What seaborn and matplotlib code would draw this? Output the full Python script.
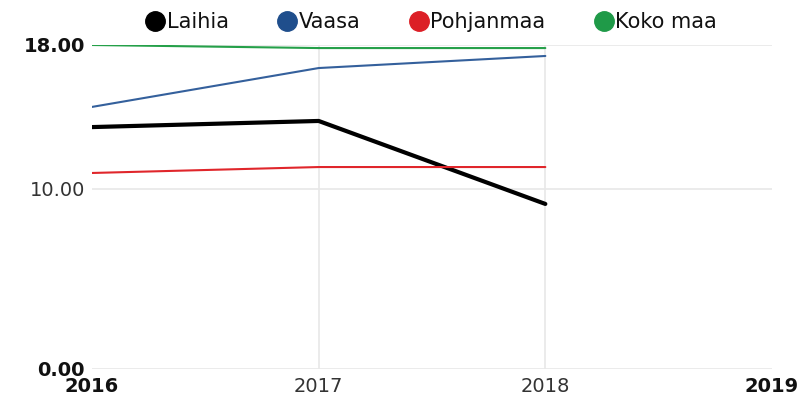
import numpy as np
import pandas as pd
import seaborn as sns
import matplotlib.pyplot as plt
from matplotlib.lines import Line2D

years = [2016, 2017, 2018]
laihia = [13.44, 13.78, 9.17]
vaasa = [14.56, 16.72, 17.39]
pohjanmaa = [10.89, 11.22, 11.22]
koko_maa = [18.0, 17.83, 17.83]

series = ["Laihia", "Vaasa", "Pohjanmaa", "Koko maa"]
line_colors = ["#000000", "#34609c", "#e0262b", "#25a049"]
dot_colors = ["#000000", "#1f4e8c", "#dc1f26", "#1f9a48"]
widths = [3.0, 1.5, 1.5, 1.5]

x_ticks = [2016, 2017, 2018, 2019]
y_ticks = [0, 10, 18]
y_labels = ["0.00", "10.00", "18.00"]

df = pd.DataFrame({
    "vuosi": years * 4,
    "arvo": laihia + vaasa + pohjanmaa + koko_maa,
    "alue": [s for s in series for _ in years],
})

sns.set_style("white")
plt.rcParams["font.family"] = ["DejaVu Sans"]

fig = plt.figure(figsize=(8.08, 3.96), dpi=100)
ax = fig.add_axes([92 / 808, 27 / 396, 680 / 808, 324 / 396])

# light grid lines drawn under the data
for yv in [0, 10, 18]:
    ax.axhline(yv, color="#e8e8e8", lw=1.2, zorder=0)
for xv in [2017, 2018]:
    ax.axvline(xv, color="#e8e8e8", lw=1.2, zorder=0)

for name, col, lw in zip(series, line_colors, widths):
    sns.lineplot(data=df[df["alue"] == name], x="vuosi", y="arvo", color=col,
                 linewidth=lw, ax=ax, legend=False, zorder=3)

ax.set_xlim(2016, 2019)
ax.set_ylim(0, 18)
ax.set_xlabel("")
ax.set_ylabel("")
for sp in ax.spines.values():
    sp.set_visible(False)

ax.set_xticks(x_ticks)
ax.set_xticklabels([str(v) for v in x_ticks])
ax.set_yticks(y_ticks)
ax.set_yticklabels(y_labels)
ax.tick_params(axis="both", length=0, labelsize=14, colors="#333333")
ax.tick_params(axis="x", pad=6)
ax.tick_params(axis="y", pad=5)

for lab in ax.get_xticklabels():
    if lab.get_text() in ("2016", "2019"):
        lab.set_fontweight("bold")
        lab.set_color("#111111")
for lab in ax.get_yticklabels():
    if lab.get_text() in ("0.00", "18.00"):
        lab.set_fontweight("bold")
        lab.set_color("#111111")

handles = [Line2D([], [], marker="o", linestyle="", markersize=14,
                  markerfacecolor=c, markeredgecolor=c) for c in dot_colors]
fig.legend(handles, series, loc="center", bbox_to_anchor=(432 / 808, 1 - 22 / 396),
           ncol=4, frameon=False, fontsize=15, handlelength=0.8,
           handletextpad=0.15, columnspacing=2.4, labelcolor="#111111")

fig.savefig("out.png", dpi=100)
